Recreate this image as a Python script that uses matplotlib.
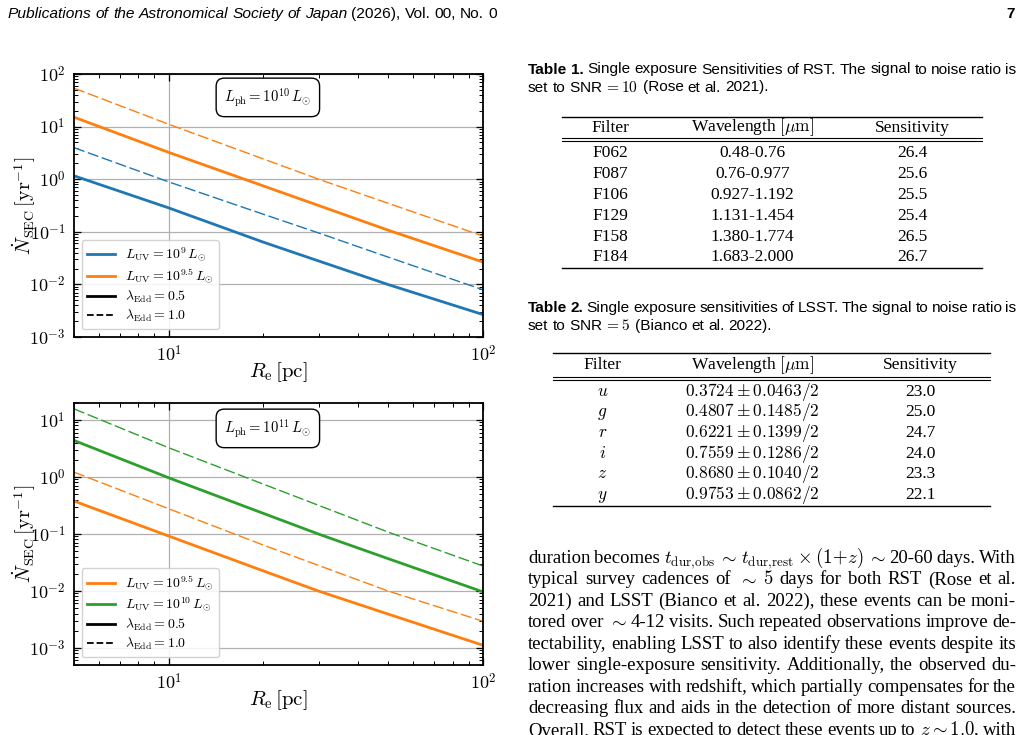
import numpy as np
import matplotlib
matplotlib.use('Agg')
import matplotlib.pyplot as plt
from matplotlib.lines import Line2D
from matplotlib.ticker import FuncFormatter, LogLocator, NullFormatter

plt.rcParams['font.family'] = 'Liberation Serif'
plt.rcParams['mathtext.fontset'] = 'cm'

W, H = 1021, 735

# ---- data ----
R_pc = [5, 10, 20, 30, 50, 100]
# upper panel, L_ph = 1e10 Lsun
top_uv9_half = [1.16, 0.285, 0.0636, 0.0279, 0.0099, 0.00267]
top_uv9_one = [3.98, 0.89, 0.216, 0.095, 0.0329, 0.0079]
top_uv95_half = [15.1, 3.24, 0.746, 0.316, 0.107, 0.0266]
top_uv95_one = [53.8, 11.1, 2.43, 1.0, 0.347, 0.083]
# lower panel, L_ph = 1e11 Lsun
bot_uv95_half = [0.376, 0.0916, 0.0224, 0.0099, 0.0039, 0.00111]
bot_uv95_one = [1.21, 0.276, 0.0636, 0.0279, 0.0099, 0.00293]
bot_uv10_half = [4.35, 0.964, 0.229, 0.099, 0.0366, 0.0096]
bot_uv10_one = [15.6, 3.24, 0.746, 0.316, 0.107, 0.0273]

# ---- tables ----
tab_head = ['Filter', r'Wavelength $[\mu{\rm m}]$', 'Sensitivity']
rst_filters = ['F062', 'F087', 'F106', 'F129', 'F158', 'F184']
rst_wave = ['0.48-0.76', '0.76-0.977', '0.927-1.192', '1.131-1.454', '1.380-1.774', '1.683-2.000']
rst_sens = ['26.4', '25.6', '25.5', '25.4', '26.5', '26.7']
lsst_filters = ['$u$', '$g$', '$r$', '$i$', '$z$', '$y$']
lsst_wave = [r'$0.3724\pm0.0463/2$', r'$0.4807\pm0.1485/2$', r'$0.6221\pm0.1399/2$',
             r'$0.7559\pm0.1286/2$', r'$0.8680\pm0.1040/2$', r'$0.9753\pm0.0862/2$']
lsst_sens = ['23.0', '25.0', '24.7', '24.0', '23.3', '22.1']

body = [
    r'duration becomes $t_\mathrm{dur,\!obs}$ $\sim$ $t_\mathrm{dur,\!rest}$ $\times$ $(1\!+\!z)$ $\sim$ 20-60 days. With',
    r'typical survey cadences of $\sim$ $5$ days for both RST (Rose et al.',
    r'2021) and LSST (Bianco et al. 2022), these events can be moni-',
    r'tored over $\sim$ 4-12 visits. Such repeated observations improve de-',
    r'tectability, enabling LSST to also identify these events despite its',
    r'lower single-exposure sensitivity. Additionally, the observed du-',
    r'ration increases with redshift, which partially compensates for the',
    r'decreasing flux and aids in the detection of more distant sources.',
    r'Overall, RST is expected to detect these events up to $z\sim1.0$, with',
]

fig = plt.figure(figsize=(W / 100, H / 100), dpi=100)
renderer = fig.canvas.get_renderer()


def put_words(words, x0, y, x1=None, size=12.5, family='Liberation Serif'):
    # place words on one baseline (page pixels), justified if x1 is given
    arts = []
    for w in words:
        s, extra = w if isinstance(w, tuple) else (w, {})
        kw = dict(fontsize=size, family=family, va='baseline', ha='left')
        kw.update(extra)
        arts.append(fig.text(0, 0, s, **kw))
    widths = [a.get_window_extent(renderer).width for a in arts]
    if x1 is None:
        gap = 0.27 * size * 100 / 72
    else:
        gap = (x1 - x0 - sum(widths)) / (len(arts) - 1)
    x = x0
    for a, w in zip(arts, widths):
        a.set_position((x / W, 1 - y / H))
        x += w + gap


def hline(x0, x1, y, lw=1.0):
    fig.add_artist(Line2D([x0 / W, x1 / W], [1 - y / H, 1 - y / H], color='k', lw=lw))


def cell(x, y, s, size=12.5):
    fig.text(x / W, 1 - y / H, s, ha='center', va='baseline', fontsize=size)


# ---- header ----
head = 'Publications of the Astronomical Society of Japan'.split()
put_words([(w, {'style': 'italic'}) for w in head] + '(2026), Vol. 00, No. 0'.split(),
          8, 18, size=11.15, family='Liberation Sans')
fig.text(1015 / W, 1 - 18 / H, '7', ha='right', va='baseline', family='Liberation Sans',
         weight='bold', fontsize=11)


# ---- panels ----
def style(ax, ylim, box_text, box_y):
    ax.set_xscale('log')
    ax.set_yscale('log')
    ax.set_xlim(5, 100)
    ax.set_ylim(*ylim)
    ax.set_axisbelow(True)
    ax.grid(True, which='major', color='#b0b0b0', lw=0.9)
    fmt = FuncFormatter(lambda v, p: r'$10^{%d}$' % round(np.log10(v)))
    for axis in (ax.xaxis, ax.yaxis):
        axis.set_major_locator(LogLocator(base=10, numticks=20))
        axis.set_minor_locator(LogLocator(base=10, subs=np.arange(2, 10), numticks=100))
        axis.set_major_formatter(fmt)
        axis.set_minor_formatter(NullFormatter())
    ax.tick_params(which='both', direction='in', top=True, right=True, labelsize=13)
    ax.tick_params(which='major', length=5, width=0.9, pad=6)
    ax.tick_params(which='minor', length=2.6, width=0.7)
    for sp in ax.spines.values():
        sp.set_linewidth(1.3)
    ax.set_xlabel(r'$R_{\rm e}\,[{\rm pc}]$', fontsize=15)
    ax.set_ylabel(r'$\dot{N}_{\rm SEC}\,[{\rm yr}^{-1}]$', fontsize=14.5)
    ax.xaxis.label.set_va('center')
    ax.yaxis.label.set_va('center')
    ax.xaxis.set_label_coords(0.5, -0.133)
    ax.yaxis.set_label_coords(-0.122, 0.5)
    ax.text(0.474, box_y, box_text, transform=ax.transAxes, ha='center', va='center',
            fontsize=10.6, bbox=dict(boxstyle='round,pad=0.55', fc='white', ec='k', lw=1))


def legend(ax, colors, labels):
    hs = [Line2D([], [], color=c, lw=2) for c in colors]
    hs += [Line2D([], [], color='k', lw=2), Line2D([], [], color='k', lw=1.3, ls='--')]
    labs = labels + [r'$\lambda_{\rm Edd}=0.5$', r'$\lambda_{\rm Edd}=1.0$']
    ax.legend(hs, labs, loc='lower left', fontsize=10, handlelength=2.0, handletextpad=0.7,
              borderaxespad=0.55, labelspacing=0.18, framealpha=0.85)


ax1 = fig.add_axes([74 / W, 1 - 337 / H, 409 / W, 263 / H])
ax1.plot(R_pc, top_uv9_half, color='C0', lw=2.0)
ax1.plot(R_pc, top_uv95_half, color='C1', lw=2.0)
ax1.plot(R_pc, top_uv9_one, color='C0', lw=1.0, dashes=(8, 2.6))
ax1.plot(R_pc, top_uv95_one, color='C1', lw=1.0, dashes=(8, 2.6))
style(ax1, (1e-3, 1e2), r'$L_{\rm ph}=10^{10}\,L_{\odot}$', 0.911)
legend(ax1, ['C0', 'C1'], [r'$L_{\rm UV}=10^{9}\,L_{\odot}$', r'$L_{\rm UV}=10^{9.5}\,L_{\odot}$'])

ax2 = fig.add_axes([74 / W, 1 - 665 / H, 409 / W, 262.3 / H])
ax2.plot(R_pc, bot_uv95_half, color='C1', lw=2.0)
ax2.plot(R_pc, bot_uv10_half, color='C2', lw=2.0)
ax2.plot(R_pc, bot_uv95_one, color='C1', lw=1.0, dashes=(8, 2.6))
ax2.plot(R_pc, bot_uv10_one, color='C2', lw=1.0, dashes=(8, 2.6))
style(ax2, (5e-4, 2e1), r'$L_{\rm ph}=10^{11}\,L_{\odot}$', 0.902)
legend(ax2, ['C1', 'C2'], [r'$L_{\rm UV}=10^{9.5}\,L_{\odot}$', r'$L_{\rm UV}=10^{10}\,L_{\odot}$'])

# ---- table 1 ----
cap = [('Table', {'weight': 'bold'}), ('1.', {'weight': 'bold'})]
put_words(cap + 'Single exposure Sensitivities of RST. The signal to noise ratio is'.split(),
          528, 73.5, 1016, size=11.1, family='Liberation Sans')
put_words(['set', 'to', r'SNR$\,=10$', '(Rose', 'et', 'al.', '2021).'], 528, 91.5,
          size=11.1, family='Liberation Sans')
cols1 = [610, 752.5, 912.5]
hline(562, 982, 116.7)
for x, s in zip(cols1, tab_head):
    cell(x, 131.5, s)
hline(562, 982, 138.2, 0.8)
hline(562, 982, 140.7, 0.8)
for i in range(len(rst_filters)):
    y = 157.3 + 20.8 * i
    for x, s in zip(cols1, [rst_filters[i], rst_wave[i], rst_sens[i]]):
        cell(x, y, s)
hline(562, 982, 268.3)

# ---- table 2 ----
cap = [('Table', {'weight': 'bold'}), ('2.', {'weight': 'bold'})]
put_words(cap + 'Single exposure sensitivities of LSST. The signal to noise ratio is'.split(),
          528, 312.5, 1016, size=11.1, family='Liberation Sans')
put_words(['set', 'to', r'SNR$\,=5$', '(Bianco', 'et', 'al.', '2022).'], 528, 330,
          size=11.1, family='Liberation Sans')
cols2 = [602.5, 752.5, 920.5]
hline(553, 990, 353.3)
for x, s in zip(cols2, tab_head):
    cell(x, 369, s)
hline(553, 990, 377.2, 0.8)
hline(553, 990, 379.7, 0.8)
for i in range(len(lsst_filters)):
    y = 395.6 + 20.7 * i
    for x, s in zip(cols2, [lsst_filters[i], lsst_wave[i], lsst_sens[i]]):
        cell(x, y, s)
hline(553, 990, 506)

# ---- body text ----
for k, line in enumerate(body):
    put_words(line.split(' '), 528, 563 + 21.45 * k, 1016, size=13.5)

fig.savefig('out.png', dpi=100)
